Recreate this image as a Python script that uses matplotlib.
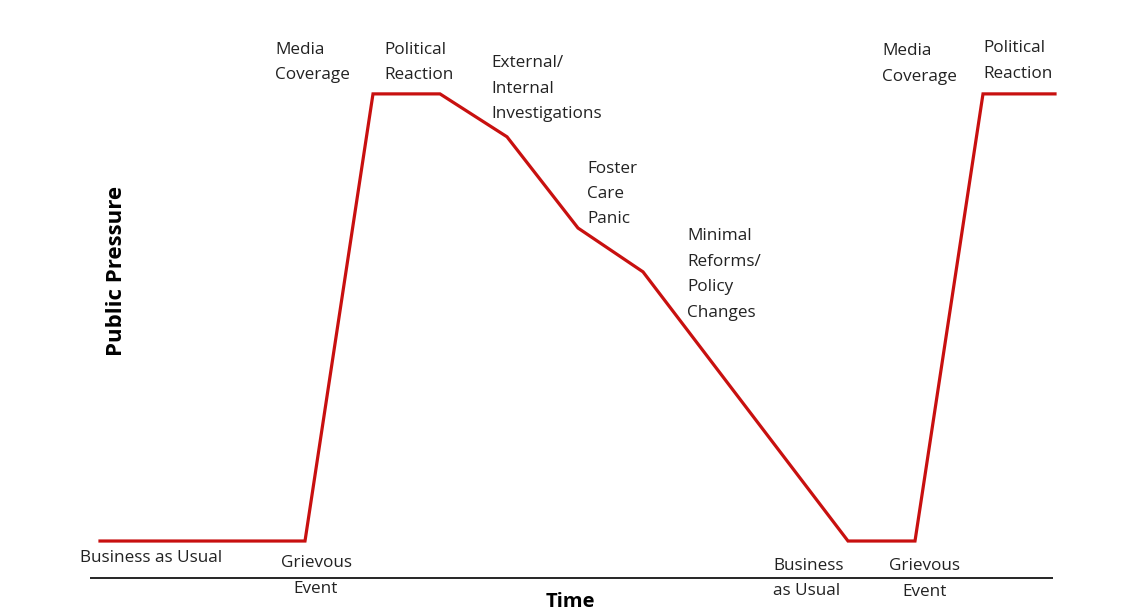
import matplotlib.pyplot as plt

# time (arbitrary units) and public pressure (0 = baseline, 100 = peak)
time = [100, 305, 373, 440, 507, 578, 643, 848, 915, 983, 1055]
pressure = [0, 0, 100, 100, 90.4, 70.0, 60.2, 0, 0, 100, 100]

# stage labels: text, time, pressure (top of text), alignment
stages = [
    ("Media\nCoverage", 275, 111.7, "left"),
    ("Political\nReaction", 384, 111.7, "left"),
    ("External/\nInternal\nInvestigations", 491, 108.6, "left"),
    ("Foster\nCare\nPanic", 587, 85.1, "left"),
    ("Minimal\nReforms/\nPolicy\nChanges", 687, 69.9, "left"),
    ("Business as Usual", 80, -2.1, "left"),
    ("Grievous\nEvent", 316, -3.2, "center"),
    ("Business\nas Usual", 773, -3.7, "left"),
    ("Grievous\nEvent", 925, -3.9, "center"),
    ("Media\nCoverage", 882, 111.3, "left"),
    ("Political\nReaction", 983, 112.0, "left"),
]

fig = plt.figure(figsize=(11.28, 6.13), dpi=100)
ax = fig.add_axes([0, 0, 1, 1])
ax.set_xlim(0, 1128)
ax.set_ylim(-16.1, 121.0)
ax.axis("off")

ax.plot(time, pressure, color="#c8100f", lw=2.3, solid_joinstyle="miter")
ax.hlines(-8.3, 90, 1053, color="black", lw=1.2)

for txt, t, p, ha in stages:
    ax.text(t, p, txt, ha=ha, va="top", fontsize=12.3, family="Open Sans",
            color="#222222", linespacing=1.78)

ax.text(117, 60.5, "Public Pressure", rotation=90, ha="center", va="center",
        fontsize=16, fontweight="bold", family="Open Sans")
ax.text(570, -13.7, "Time", ha="center", va="center", fontsize=14.5,
        fontweight="bold", family="Open Sans")

fig.savefig("out.png", dpi=100)
